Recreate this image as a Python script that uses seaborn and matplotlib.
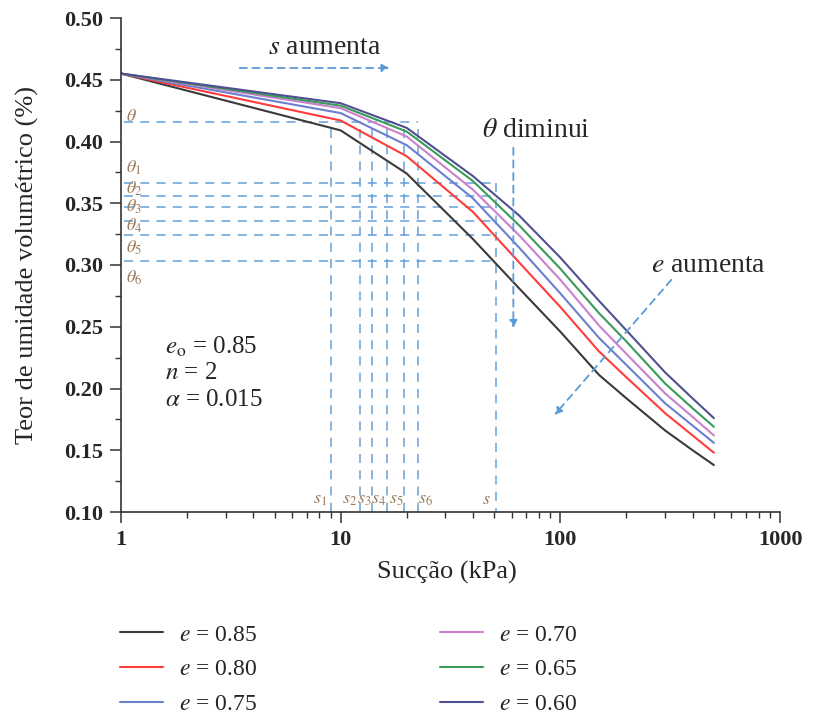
import numpy as np
import pandas as pd
import matplotlib
matplotlib.use("Agg")
import matplotlib.pyplot as plt
import matplotlib.ticker as mticker
from matplotlib.lines import Line2D
import seaborn as sns

# curve data
suction = [1, 10, 20, 40, 65, 100, 150, 200, 300, 400, 500]
theta_085 = [0.455, 0.409, 0.374, 0.321, 0.281, 0.246, 0.211, 0.192, 0.166, 0.150, 0.138]
theta_080 = [0.455, 0.417, 0.388, 0.343, 0.302, 0.266, 0.230, 0.209, 0.180, 0.162, 0.148]
theta_075 = [0.455, 0.423, 0.397, 0.354, 0.314, 0.277, 0.241, 0.219, 0.188, 0.170, 0.156]
theta_070 = [0.455, 0.427, 0.404, 0.361, 0.324, 0.288, 0.251, 0.228, 0.196, 0.177, 0.162]
theta_065 = [0.455, 0.429, 0.408, 0.368, 0.332, 0.297, 0.261, 0.238, 0.204, 0.184, 0.169]
theta_060 = [0.455, 0.431, 0.411, 0.372, 0.340, 0.306, 0.271, 0.247, 0.213, 0.192, 0.176]
e_labels = ["0.85", "0.80", "0.75", "0.70", "0.65", "0.60"]
colors = ["#3a3a3a", "#ff3b3b", "#6a7fd0", "#cc7fcc", "#3a9a5a", "#4f5090"]

# schematic guide lines
theta_ref = 0.4155
theta_levels = [0.3667, 0.3561, 0.3467, 0.3356, 0.3243, 0.3032]
s_levels = [9.07, 12.2, 13.9, 16.3, 19.4, 22.5]
s_final = 51.0

series = [theta_085, theta_080, theta_075, theta_070, theta_065, theta_060]
df = pd.concat([pd.DataFrame({"suction": suction, "theta": vals, "e": lab})
                for vals, lab in zip(series, e_labels)], ignore_index=True)

sns.set_style("ticks")
plt.rcParams["font.family"] = ["Liberation Serif", "DejaVu Serif"]
plt.rcParams["mathtext.fontset"] = "stix"

fig = plt.figure(figsize=(8.14, 7.16), dpi=100)
ax = fig.add_axes([121/814, 204/716, 659/814, 494/716])

guide = "#5b9bd5"
dash = (0, (5, 4))
lab_col = "#9b7b5b"

# dashed guides
ax.plot([1.03, s_levels[-1]], [theta_ref, theta_ref], color=guide, lw=1.3, ls=dash, alpha=0.8)
for t in theta_levels:
    ax.plot([1.03, s_final], [t, t], color=guide, lw=1.3, ls=dash, alpha=0.8)
for s in s_levels:
    ax.plot([s, s], [theta_ref - 0.005, 0.10], color=guide, lw=1.3, ls=dash, alpha=0.8)
ax.plot([s_final, s_final], [theta_levels[0], 0.10], color=guide, lw=1.3, ls=dash, alpha=0.8)

sns.lineplot(data=df, x="suction", y="theta", hue="e", hue_order=e_labels,
             palette=dict(zip(e_labels, colors)), estimator=None, legend=False,
             linewidth=1.5, ax=ax)

ax.set_xscale("log")
ax.set_xlim(1, 1000)
ax.set_ylim(0.10, 0.50)
sns.despine(ax=ax)
for sp in ["left", "bottom"]:
    ax.spines[sp].set_color("#333333")
    ax.spines[sp].set_linewidth(1.2)

ax.set_xticks([1, 10, 100, 1000])
ax.set_xticklabels(["1", "10", "100", "1000"], fontsize=16, fontweight="bold")
yt = [0.10, 0.15, 0.20, 0.25, 0.30, 0.35, 0.40, 0.45, 0.50]
ax.set_yticks(yt)
ax.set_yticklabels([f"{v:.2f}" for v in yt], fontsize=16, fontweight="bold")
ax.yaxis.set_minor_locator(mticker.MultipleLocator(0.025))
ax.xaxis.set_minor_locator(mticker.LogLocator(base=10, subs=np.arange(2, 10)))
ax.xaxis.set_minor_formatter(mticker.NullFormatter())
ax.tick_params(which="major", length=8, width=1.1, color="#333333", pad=5)
ax.tick_params(which="minor", length=4, width=1.0, color="#333333")

ax.set_xlabel("Sucção (kPa)", fontsize=19)
ax.set_ylabel("Teor de umidade volumétrico (%)", fontsize=19)
ax.xaxis.set_label_coords(0.495, -0.10)
ax.yaxis.set_label_coords(-0.125, 0.5)

# theta / s labels
ax.text(1.05, 0.420, r"$\theta$", color=lab_col, fontsize=13, ha="left", va="center")
th_y = [0.3785, 0.3615, 0.347, 0.3316, 0.3138, 0.2895]
for i, y in enumerate(th_y):
    ax.text(1.05, y, rf"$\theta_{i+1}$", color=lab_col, fontsize=13, ha="left", va="center")
s_x = [8.03, 11.0, 12.85, 14.9, 17.97, 24.3]
for i, x in enumerate(s_x):
    ax.text(x, 0.1105, rf"$s_{i+1}$", color=lab_col, fontsize=13, ha="center", va="center")
ax.text(46.1, 0.1105, r"$s$", color=lab_col, fontsize=13, ha="center", va="center")

# parameter block
ax.text(1.585, 0.2336, r"$e_{\mathrm{o}}$ = 0.85", fontsize=18, ha="left", va="center")
ax.text(1.585, 0.2126, r"$n$ = 2", fontsize=18, ha="left", va="center")
ax.text(1.585, 0.1907, r"$\alpha$ = 0.015", fontsize=18, ha="left", va="center")

# arrows and their captions
arrow_kw = dict(arrowstyle="-|>", color=guide, lw=1.3, linestyle=(0, (4, 3)),
                mutation_scale=11, shrinkA=0, shrinkB=0)
ax.annotate("", xy=(16.7, 0.4595), xytext=(3.47, 0.4595), arrowprops=arrow_kw)
ax.text(8.46, 0.4765, r"$s$ aumenta", fontsize=20, ha="center", va="center")
ax.annotate("", xy=(61.1, 0.249), xytext=(61.1, 0.395), arrowprops=arrow_kw)
ax.text(77.2, 0.409, r"$\theta$ diminui", fontsize=20, ha="center", va="center")
ax.annotate("", xy=(94, 0.1785), xytext=(320, 0.288), arrowprops=arrow_kw)
ax.text(470, 0.300, r"$e$ aumenta", fontsize=20, ha="center", va="center")

# legend in two columns
handles = [Line2D([0], [0], color=c, lw=1.5) for c in colors]
labels = [rf"$e$ = {v}" for v in e_labels]
leg_kw = dict(frameon=False, fontsize=17, handlelength=1.8, handletextpad=0.7,
              labelspacing=0.56, borderpad=0, borderaxespad=0, loc="upper left")
fig.legend(handles[:3], labels[:3], bbox_to_anchor=(120/814, 1 - 624/716), **leg_kw)
fig.legend(handles[3:], labels[3:], bbox_to_anchor=(440/814, 1 - 624/716), **leg_kw)

fig.savefig("out.png", dpi=100)
